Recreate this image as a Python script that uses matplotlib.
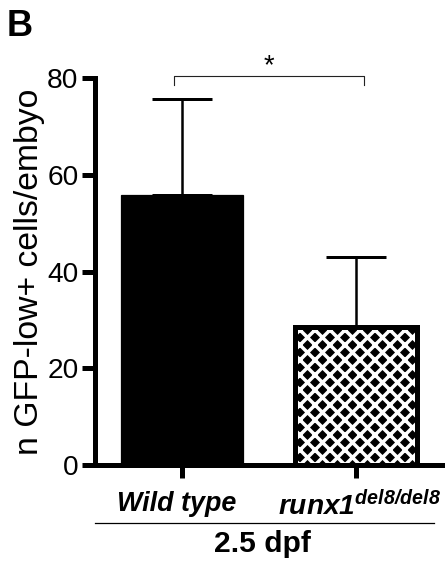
"""GFP-low+ cell counts per embryo at 2.5 dpf, wild type vs runx1 mutant."""

import matplotlib

matplotlib.use("Agg")
import matplotlib.pyplot as plt
import matplotlib.transforms as mtransforms
import numpy as np

plt.rcParams["font.family"] = ["Liberation Sans", "DejaVu Sans"]
plt.rcParams["mathtext.fontset"] = "custom"
plt.rcParams["mathtext.rm"] = "Liberation Sans:bold:italic"
plt.rcParams["mathtext.it"] = "Liberation Sans:bold:italic"
plt.rcParams["hatch.linewidth"] = 2.8

groups = ["Wild type", r"$\mathit{runx1}^{\mathit{del8/del8}}$"]
means = [55.8, 28.6]
sem_upper = [19.8, 14.4]
y_ticks = [0, 20, 40, 60, 80]
stage = "2.5 dpf"
y_label = "n GFP-low+ cells/embyo"

DPI = 90
fig = plt.figure(figsize=(445 / DPI, 563 / DPI), dpi=DPI)
ax = fig.add_axes([0.2124, 0.174, 0.783, 0.6875])

x = np.arange(len(groups))
width = 0.70

# error bars first so the bars hide the lower caps
ax.errorbar(x, means, yerr=[np.zeros(len(means)), sem_upper], fmt="none",
            ecolor="black", elinewidth=2.0, capsize=24, capthick=2.4, zorder=1)

ax.bar(x[0], means[0], width, color="black", edgecolor="black",
       linewidth=1.0, zorder=2)
# hatched mutant bar: white cross lines on black, thick black outline on top
ax.bar(x[1], means[1], width, color="black", edgecolor="white",
       hatch="xx", linewidth=0, zorder=2)
ax.bar(x[1], means[1], width, fill=False, edgecolor="black",
       linewidth=4.0, zorder=3)

ax.set_xlim(-0.5, 1.5)
ax.set_ylim(0, 80)
ax.set_yticks(y_ticks)
ax.set_xticks(x)
ax.set_xticklabels(groups)

ax.tick_params(axis="y", labelsize=22.5, length=10.5, width=4, pad=2.4)
ax.tick_params(axis="x", length=10.5, width=4, pad=10)

# italic labels lean right, nudge them so they sit under the ticks
label_sizes = [21.5, 22.5]
label_shift = [-5, 4]
for lbl, size, dx in zip(ax.get_xticklabels(), label_sizes, label_shift):
    lbl.set_fontweight("bold")
    lbl.set_fontstyle("italic")
    lbl.set_fontsize(size)
    lbl.set_transform(lbl.get_transform() + mtransforms.ScaledTranslation(
        dx / DPI, 0, fig.dpi_scale_trans))

for side in ["top", "right"]:
    ax.spines[side].set_visible(False)
for side in ["left", "bottom"]:
    ax.spines[side].set_linewidth(4)

ax.set_ylabel(y_label, fontsize=27)
ax.yaxis.set_label_coords(-0.1425, 0.5)

# group line and stage label beneath the tick labels
ax.plot([0.0, 0.974], [-0.150, -0.150], color="black", linewidth=1.0,
        transform=ax.transAxes, clip_on=False)
ax.text(0.481, -0.225, stage, transform=ax.transAxes, ha="center",
        va="baseline", fontsize=24, fontweight="bold")

# significance bracket
y_br, y_drop = 80.5, 78.6
ax.plot([x[0] - 0.046, x[0] - 0.046, x[1] + 0.046, x[1] + 0.046],
        [y_drop, y_br, y_br, y_drop], color="#222222", linewidth=0.9,
        clip_on=False)
ax.text(x.mean(), y_br + 0.5, "*", ha="center", va="baseline", fontsize=22)

fig.text(0.016, 0.936, "B", ha="left", va="baseline", fontsize=29,
         fontweight="bold")

fig.savefig("out.png", dpi=DPI)
plt.close(fig)
